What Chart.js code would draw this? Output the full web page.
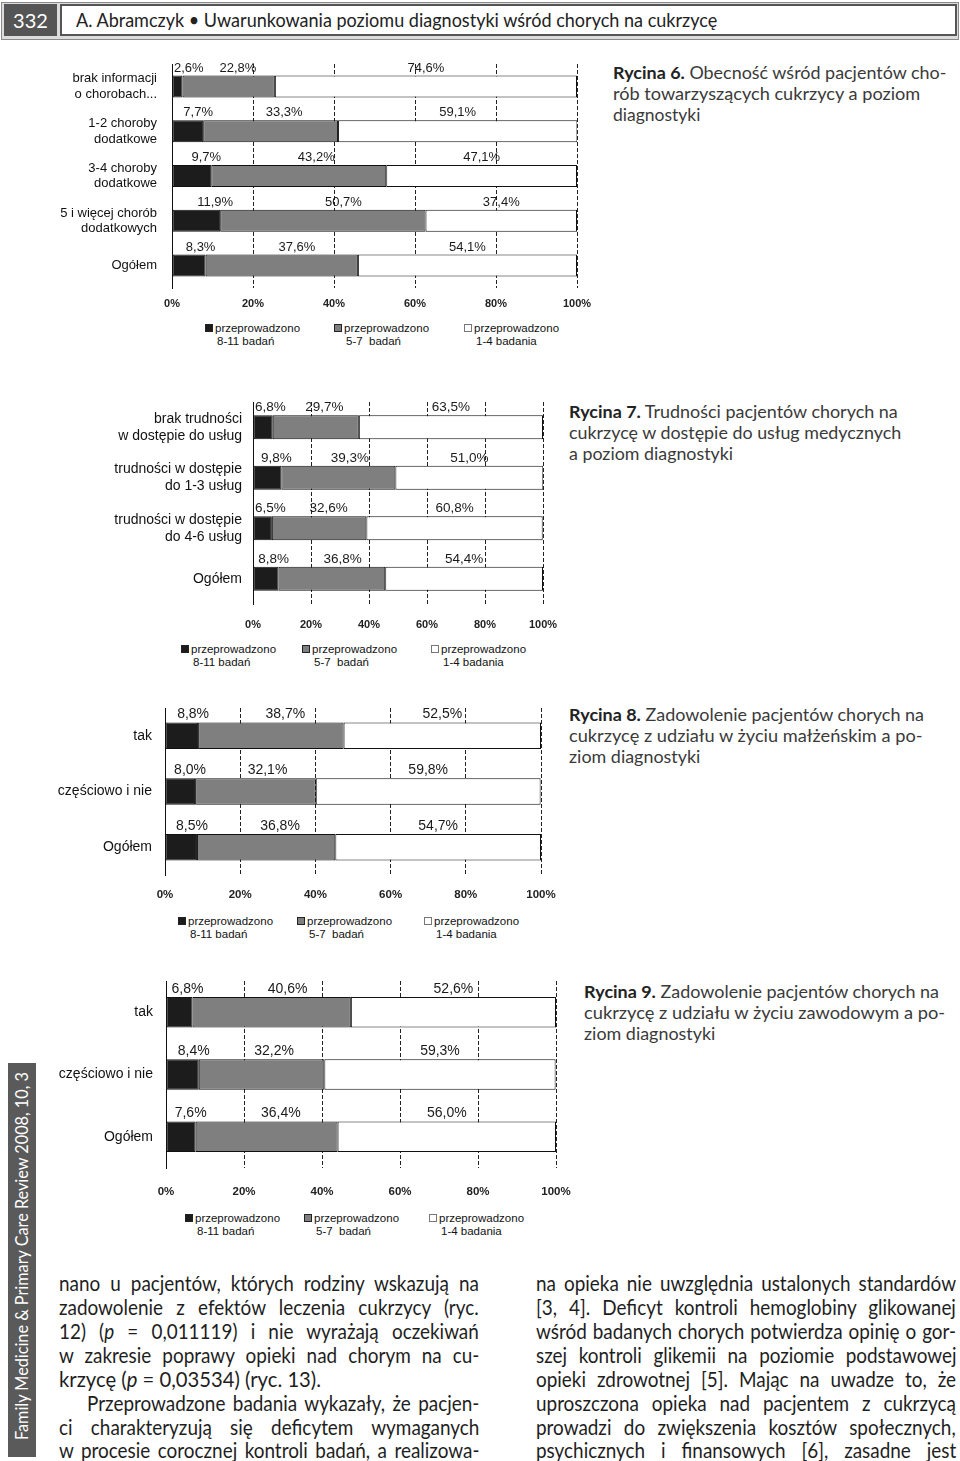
<!DOCTYPE html>
<html lang="pl">
<head>
<meta charset="utf-8">
<title>Ryciny 6-9</title>
<script src="https://cdn.jsdelivr.net/npm/chart.js@4.4.1/dist/chart.umd.min.js"></script>
<style>
  html, body { margin: 0; padding: 0; background: #fff; }
  body { width: 960px; height: 1461px; position: relative; overflow: hidden; font-family: Lato, "Open Sans", sans-serif; color: #222; }
  canvas { position: absolute; }
  .ln { position: absolute; white-space: nowrap; transform-origin: 0 50%; }
  .body-ln { font-size: 21px; line-height: 24px; color: #1e1e1e; }
  .cap { font-size: 17.5px; line-height: 21px; color: #3a3a3a; }
  .cap b { color: #222; }
  #frame { position: absolute; left: 1px; top: 2px; width: 956px; height: 36px; background: #dcdcdc; border: 1px solid #8a8a8a; }
  #pageno { position: absolute; left: 4px; top: 4px; width: 53px; height: 32px; background: #555; color: #fff; font-size: 20px; line-height: 32px; text-align: center; }
  #titlebox { position: absolute; left: 60px; top: 4px; width: 893px; height: 28px; background: #fff; border: 2px solid #555; }
  #side { position: absolute; left: 8px; top: 1063px; width: 28px; height: 394px; background: #5a5a5a; }
  #sidetext { position: absolute; left: -175px; top: 1246px; width: 394px; height: 28px; transform: rotate(-90deg); color: #fff; font-size: 16.5px; line-height: 28px; }
  .legend { position: absolute; font-family: "Liberation Sans", Arial, sans-serif; font-size: 11.5px; line-height: 13px; color: #111; }
  .legend .item { position: absolute; top: 0; white-space: nowrap; }
  .legend .sw { display: inline-block; width: 6px; height: 6px; border: 1px solid #333; margin-right: 2px; vertical-align: 0px; }
  .legend .l2 { display: block; padding-left: 12px; }
</style>
</head>
<body>

<div id="frame"></div>
<div id="pageno">332</div>
<div id="titlebox"></div>
<div class="ln" data-fit="641" style="left:76px;top:6px;font-size:20px;line-height:26px;color:#222">A. Abramczyk • Uwarunkowania poziomu diagnostyki wśród chorych na cukrzycę</div>

<canvas id="ryc6"></canvas>
<canvas id="ryc7"></canvas>
<canvas id="ryc8"></canvas>
<canvas id="ryc9"></canvas>

<div class="legend" id="leg6" style="left:0;top:322px"></div>
<div class="legend" id="leg7" style="left:0;top:643px"></div>
<div class="legend" id="leg8" style="left:0;top:915px"></div>
<div class="legend" id="leg9" style="left:0;top:1212px"></div>

<div class="ln cap" data-fit="333" style="left:613px;top:62px"><b>Rycina 6.</b> Obecność wśród pacjentów cho-</div>
<div class="ln cap" data-fit="307" style="left:613px;top:83px">rób towarzyszących cukrzycy a poziom</div>
<div class="ln cap" data-fit="87" style="left:613px;top:104px">diagnostyki</div>

<div class="ln cap" data-fit="329" style="left:569px;top:401px"><b>Rycina 7.</b> Trudności pacjentów chorych na</div>
<div class="ln cap" data-fit="332" style="left:569px;top:422px">cukrzycę w dostępie do usług medycznych</div>
<div class="ln cap" data-fit="164" style="left:569px;top:443px">a poziom diagnostyki</div>

<div class="ln cap" data-fit="355" style="left:569px;top:704px"><b>Rycina 8.</b> Zadowolenie pacjentów chorych na</div>
<div class="ln cap" data-fit="354" style="left:569px;top:725px">cukrzycę z udziału w życiu małżeńskim a po-</div>
<div class="ln cap" data-fit="131" style="left:569px;top:746px">ziom diagnostyki</div>

<div class="ln cap" data-fit="355" style="left:584px;top:981px"><b>Rycina 9.</b> Zadowolenie pacjentów chorych na</div>
<div class="ln cap" data-fit="361" style="left:584px;top:1002px">cukrzycę z udziału w życiu zawodowym a po-</div>
<div class="ln cap" data-fit="131" style="left:584px;top:1023px">ziom diagnostyki</div>

<div id="side"></div>
<div id="sidetext"><span class="ln" data-fit="368" style="left:17px;top:0;line-height:28px">Family Medicine &amp; Primary Care Review 2008, 10, 3</span></div>

<!-- left column -->
<div class="ln body-ln" data-just="420" style="left:59px;top:1271px">nano u pacjentów, których rodziny wskazują na</div>
<div class="ln body-ln" data-just="420" style="left:59px;top:1295px">zadowolenie z efektów leczenia cukrzycy (ryc.</div>
<div class="ln body-ln" data-just="420" style="left:59px;top:1319px">12) (<i>p</i> = 0,011119) i nie wyrażają oczekiwań</div>
<div class="ln body-ln" data-just="420" style="left:59px;top:1343px">w zakresie poprawy opieki nad chorym na cu-</div>
<div class="ln body-ln" data-fit="262" style="left:59px;top:1367px">krzycę (<i>p</i> = 0,03534) (ryc. 13).</div>
<div class="ln body-ln" data-just="392" style="left:87px;top:1391px">Przeprowadzone badania wykazały, że pacjen-</div>
<div class="ln body-ln" data-just="420" style="left:59px;top:1415px">ci charakteryzują się deficytem wymaganych</div>
<div class="ln body-ln" data-just="420" style="left:59px;top:1438px">w procesie corocznej kontroli badań, a realizowa-</div>

<!-- right column -->
<div class="ln body-ln" data-just="420" style="left:536px;top:1271px">na opieka nie uwzględnia ustalonych standardów</div>
<div class="ln body-ln" data-just="420" style="left:536px;top:1295px">[3, 4]. Deficyt kontroli hemoglobiny glikowanej</div>
<div class="ln body-ln" data-just="420" style="left:536px;top:1319px">wśród badanych chorych potwierdza opinię o gor-</div>
<div class="ln body-ln" data-just="420" style="left:536px;top:1343px">szej kontroli glikemii na poziomie podstawowej</div>
<div class="ln body-ln" data-just="420" style="left:536px;top:1367px">opieki zdrowotnej [5]. Mając na uwadze to, że</div>
<div class="ln body-ln" data-just="420" style="left:536px;top:1391px">uproszczona opieka nad pacjentem z cukrzycą</div>
<div class="ln body-ln" data-just="420" style="left:536px;top:1415px">prowadzi do zwiększenia kosztów społecznych,</div>
<div class="ln body-ln" data-just="420" style="left:536px;top:1438px">psychicznych i finansowych [6], zasadne jest</div>

<script>
// Rycina 6 - choroby towarzyszące
const ryc6Categories = [["brak informacji", "o chorobach..."], ["1-2 choroby", "dodatkowe"], ["3-4 choroby", "dodatkowe"], ["5 i więcej chorób", "dodatkowych"], ["Ogółem"]];
const ryc6Badan8to11 = [2.6, 7.7, 9.7, 11.9, 8.3];
const ryc6Badan5to7 = [22.8, 33.3, 43.2, 50.7, 37.6];
const ryc6Badan1to4 = [74.6, 59.1, 47.1, 37.4, 54.1];

// Rycina 7 - trudności w dostępie do usług
const ryc7Categories = [["brak trudności", "w dostępie do usług"], ["trudności w dostępie", "do 1-3 usług"], ["trudności w dostępie", "do 4-6 usług"], ["Ogółem"]];
const ryc7Badan8to11 = [6.8, 9.8, 6.5, 8.8];
const ryc7Badan5to7 = [29.7, 39.3, 32.6, 36.8];
const ryc7Badan1to4 = [63.5, 51.0, 60.8, 54.4];

// Rycina 8 - życie małżeńskie
const ryc8Categories = ["tak", "częściowo i nie", "Ogółem"];
const ryc8Badan8to11 = [8.8, 8.0, 8.5];
const ryc8Badan5to7 = [38.7, 32.1, 36.8];
const ryc8Badan1to4 = [52.5, 59.8, 54.7];

// Rycina 9 - życie zawodowe
const ryc9Categories = ["tak", "częściowo i nie", "Ogółem"];
const ryc9Badan8to11 = [6.8, 8.4, 7.6];
const ryc9Badan5to7 = [40.6, 32.2, 36.4];
const ryc9Badan1to4 = [52.6, 59.3, 56.0];

const xTicks = [0, 20, 40, 60, 80, 100];
const seriesNames = [["przeprowadzono", "8-11 badań"], ["przeprowadzono", "5-7\u00a0 badań"], ["przeprowadzono", "1-4 badania"]];

const seriesColors = ["#1c1c1c", "#7f7f7f", "#ffffff"];
const chartFont = "'Liberation Sans', Arial, sans-serif";

// percent labels above every segment
const barLabels = {
  id: "barLabels",
  afterDatasetsDraw(chart, args, opts) {
    const ctx = chart.ctx;
    const left = chart.scales.x.left;
    ctx.save();
    ctx.font = opts.size + "px " + chartFont;
    ctx.fillStyle = "#1a1a1a";
    ctx.textAlign = "center";
    ctx.textBaseline = "bottom";
    chart.data.datasets.forEach((ds, di) => {
      const meta = chart.getDatasetMeta(di);
      meta.data.forEach((bar, i) => {
        const txt = ds.data[i].toFixed(1).replace(".", ",") + "%";
        const p = bar.getProps(["x", "y", "base", "height"], true);
        const w = ctx.measureText(txt).width;
        let cx;
        if (di === 0) cx = Math.max(p.x - 5, left + w / 2 + 2);
        else if (di === 1) cx = p.base + (p.x - p.base) * 0.6;
        else cx = (p.x + p.base) / 2;
        ctx.fillText(txt, cx, p.y - p.height / 2 - opts.gap);
      });
    });
    ctx.restore();
  },
};

function drawChart(id, categories, series, box) {
  const canvas = document.getElementById(id);
  canvas.width = box.w;
  canvas.height = box.h;
  canvas.style.left = box.x + "px";
  canvas.style.top = box.y + "px";
  return new Chart(canvas, {
    type: "bar",
    data: {
      labels: categories,
      datasets: series.map((values, i) => ({
        label: seriesNames[i].join(" "),
        data: values,
        backgroundColor: seriesColors[i],
        borderColor: "#111",
        borderWidth: 1,
        borderSkipped: false,
        barPercentage: box.bar,
        categoryPercentage: 1,
      })),
    },
    options: {
      indexAxis: "y",
      responsive: false,
      animation: false,
      devicePixelRatio: 1,
      layout: { padding: { top: box.padTop, right: box.padRight, left: 0, bottom: 0 } },
      plugins: {
        legend: { display: false },
        tooltip: { enabled: false },
        barLabels: { size: box.labelSize, gap: 1 },
      },
      scales: {
        x: {
          stacked: true,
          min: 0,
          max: 100,
          afterBuildTicks: (s) => { s.ticks = xTicks.map((v) => ({ value: v })); },
          ticks: {
            callback: (v) => v + "%",
            font: { family: chartFont, size: box.tickSize, weight: "bold" },
            color: "#222",
            padding: box.tickPad,
            maxRotation: 0,
          },
          grid: { color: "#222", lineWidth: 1, drawTicks: false },
          border: { display: false, dash: [4, 2] },
          afterFit: (s) => { s.height = box.xh; s.paddingLeft = 0; s.paddingRight = 0; },
        },
        y: {
          stacked: true,
          ticks: {
            font: { family: chartFont, size: box.catSize, lineHeight: 1.2 },
            color: "#111",
            padding: box.catPad,
          },
          grid: { display: false, drawTicks: false },
          border: { display: true, color: "#111", width: 1 },
          afterFit: (s) => { s.width = box.yw; s.paddingTop = 0; s.paddingBottom = 0; },
        },
      },
    },
    plugins: [barLabels],
  });
}

// plot areas: ryc6 172-577 x 64-288, ryc7 253-543 x 402-604, ryc8 165-541 x 708-875, ryc9 166-556 x 981-1168
drawChart("ryc6", ryc6Categories, [ryc6Badan8to11, ryc6Badan5to7, ryc6Badan1to4],
  { x: 40, y: 44, w: 562, h: 269, padTop: 20, padRight: 25, yw: 132, xh: 25, bar: 0.49, labelSize: 13, tickSize: 11, tickPad: 9, catSize: 13, catPad: 15 });
drawChart("ryc7", ryc7Categories, [ryc7Badan8to11, ryc7Badan5to7, ryc7Badan1to4],
  { x: 100, y: 382, w: 468, h: 247, padTop: 20, padRight: 25, yw: 153, xh: 25, bar: 0.48, labelSize: 13.5, tickSize: 11, tickPad: 14, catSize: 14, catPad: 11 });
drawChart("ryc8", ryc8Categories, [ryc8Badan8to11, ryc8Badan5to7, ryc8Badan1to4],
  { x: 40, y: 688, w: 526, h: 215, padTop: 20, padRight: 25, yw: 125, xh: 28, bar: 0.475, labelSize: 14, tickSize: 11.5, tickPad: 13, catSize: 14, catPad: 13 });
drawChart("ryc9", ryc9Categories, [ryc9Badan8to11, ryc9Badan5to7, ryc9Badan1to4],
  { x: 40, y: 961, w: 541, h: 235, padTop: 20, padRight: 25, yw: 126, xh: 28, bar: 0.49, labelSize: 14, tickSize: 11.5, tickPad: 17, catSize: 14, catPad: 13 });

// legends below each chart
function drawLegend(id, xs) {
  const el = document.getElementById(id);
  seriesNames.forEach((name, i) => {
    const item = document.createElement("div");
    item.className = "item";
    item.style.left = xs[i] + "px";
    const sw = document.createElement("span");
    sw.className = "sw";
    sw.style.background = seriesColors[i];
    sw.style.borderColor = i === 2 ? "#777" : "#222";
    item.appendChild(sw);
    item.appendChild(document.createTextNode(name[0]));
    const l2 = document.createElement("span");
    l2.className = "l2";
    l2.textContent = name[1];
    item.appendChild(l2);
    el.appendChild(item);
  });
}
drawLegend("leg6", [205, 334, 464]);
drawLegend("leg7", [181, 302, 431]);
drawLegend("leg8", [178, 297, 424]);
drawLegend("leg9", [185, 304, 429]);

// squeeze / justify text lines to the widths of the printed page
document.querySelectorAll("[data-fit]").forEach((el) => {
  const target = parseFloat(el.dataset.fit);
  el.style.transform = "scaleX(" + target / el.offsetWidth + ")";
});
document.querySelectorAll("[data-just]").forEach((el) => {
  const target = parseFloat(el.dataset.just);
  const w0 = el.offsetWidth;
  const spaces = (el.textContent.match(/ /g) || []).length;
  const squeeze = Math.min(0.9, target / w0);
  if (w0 * squeeze < target && spaces) {
    el.style.wordSpacing = (target / squeeze - w0) / spaces + "px";
  }
  el.style.transform = "scaleX(" + squeeze + ")";
});
</script>
</body>
</html>
